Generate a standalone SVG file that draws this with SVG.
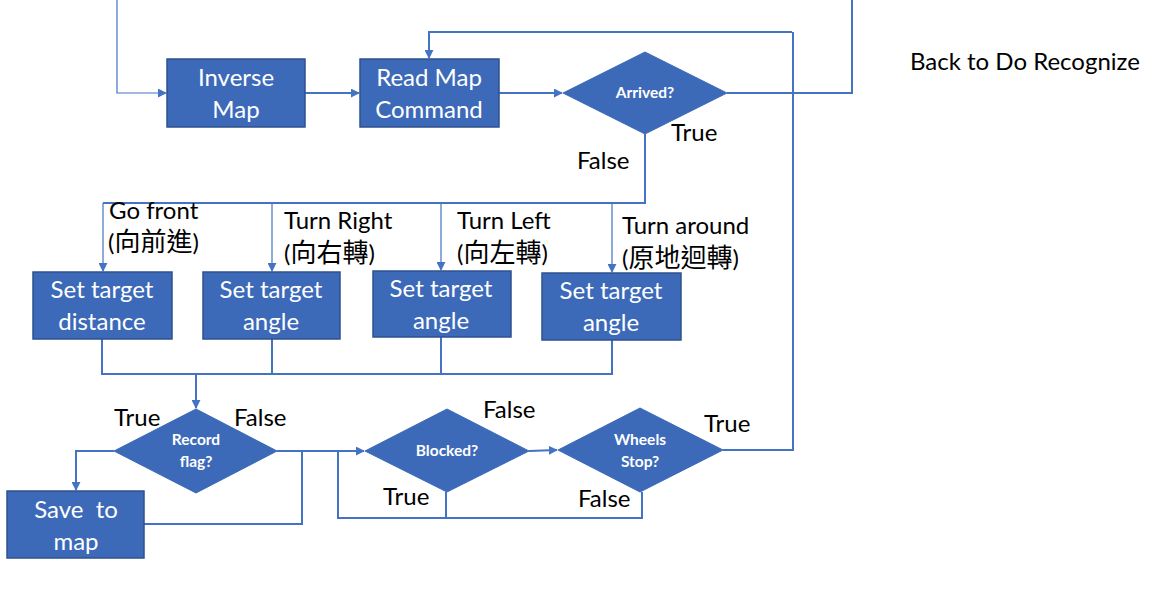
<svg xmlns="http://www.w3.org/2000/svg" width="1149" height="600" viewBox="0 0 1149 600">
<style>
.box{fill:#3C6AB9;stroke:#2F528F;stroke-width:1.5}
.dia{fill:#3C6AB9;stroke:#3C6AB9;stroke-width:1}
.bt{font-family:Lato,"Open Sans",sans-serif;font-size:24px;fill:#fff;text-anchor:middle}
.dt{font-family:Lato,"Open Sans",sans-serif;font-size:15.5px;font-weight:bold;fill:#fff;text-anchor:middle}
.lb{font-family:Lato,"Noto Sans CJK TC",sans-serif;font-size:24px;fill:#000}
.cjk{font-family:"Noto Sans CJK TC",sans-serif;font-size:26px}
.ln{fill:none;stroke:#4472C4;stroke-width:2}
.thin{fill:none;stroke:#4472C4;stroke-width:1.2}
</style>
<defs>
<marker id="ah2" viewBox="0 0 10 10" refX="9" refY="5" markerWidth="9" markerHeight="9" orient="auto" markerUnits="userSpaceOnUse">
<path d="M0,0 L10,5 L0,10 z" fill="#4472C4"/>
</marker>
</defs>
<rect width="1149" height="600" fill="#fff"/>
<g id="connectors">
<path class="thin" d="M117,0 V93 H166" marker-end="url(#ah2)"/>
<path class="ln" d="M305,93 H359" marker-end="url(#ah2)"/>
<path class="ln" d="M499,93 H562" marker-end="url(#ah2)"/>
<path class="ln" d="M727,93 H852 V0"/>
<path class="ln" d="M792,32 H429 V58" marker-end="url(#ah2)"/>
<path class="ln" d="M645,134 V203 H103"/>
<path class="thin" d="M103,203 V271" marker-end="url(#ah2)"/>
<path class="thin" d="M272,203 V271" marker-end="url(#ah2)"/>
<path class="thin" d="M441,203 V270" marker-end="url(#ah2)"/>
<path class="thin" d="M612,203 V272" marker-end="url(#ah2)"/>
<path class="ln" d="M102,339 V374 H612 V340"/>
<path class="ln" d="M272,339 V374"/>
<path class="ln" d="M441,337 V374"/>
<path class="ln" d="M196,374 V408" marker-end="url(#ah2)"/>
<path class="ln" d="M114,451 H76 V490" marker-end="url(#ah2)"/>
<path class="ln" d="M144,524 H302 V451"/>
<path class="ln" d="M277,451 H364" marker-end="url(#ah2)"/>
<path class="ln" d="M338,451 V518 H642 V492"/>
<path class="ln" d="M446,492 V518"/>
<path class="ln" d="M529,451 L557,450" marker-end="url(#ah2)"/>
<path class="ln" d="M723,450 H793 V32"/>
</g>
<g id="inverse-map">
<rect class="box" x="167" y="59" width="138" height="68"/>
<text class="bt" x="236" y="86">Inverse</text>
<text class="bt" x="236" y="118">Map</text>
</g>
<g id="read-map">
<rect class="box" x="360" y="59" width="139" height="68"/>
<text class="bt" x="429" y="86">Read Map</text>
<text class="bt" x="429" y="118">Command</text>
</g>
<g id="arrived">
<polygon class="dia" points="563,93 645,52 727,93 645,134"/>
<text class="dt" x="645" y="98">Arrived?</text>
</g>
<g id="set-distance">
<rect class="box" x="33" y="272" width="139" height="67"/>
<text class="bt" x="102" y="298">Set target</text>
<text class="bt" x="102" y="330">distance</text>
</g>
<g id="set-angle-right">
<rect class="box" x="203" y="272" width="137" height="67"/>
<text class="bt" x="271" y="298">Set target</text>
<text class="bt" x="271" y="330">angle</text>
</g>
<g id="set-angle-left">
<rect class="box" x="373" y="271" width="138" height="66"/>
<text class="bt" x="441" y="297">Set target</text>
<text class="bt" x="441" y="329">angle</text>
</g>
<g id="set-angle-around">
<rect class="box" x="542" y="273" width="139" height="67"/>
<text class="bt" x="611" y="299">Set target</text>
<text class="bt" x="611" y="331">angle</text>
</g>
<g id="record-flag">
<polygon class="dia" points="114,451 196,409 277,451 196,493"/>
<text class="dt" x="196" y="445">Record</text>
<text class="dt" x="196" y="467">flag?</text>
</g>
<g id="save-map">
<rect class="box" x="7" y="491" width="137" height="67"/>
<text class="bt" x="76" y="518" xml:space="preserve">Save  to</text>
<text class="bt" x="76" y="550">map</text>
</g>
<g id="blocked">
<polygon class="dia" points="365,451 447,409 529,451 447,492"/>
<text class="dt" x="447" y="456">Blocked?</text>
</g>
<g id="wheels-stop">
<polygon class="dia" points="558,450 640,408 723,450 640,492"/>
<text class="dt" x="640" y="445">Wheels</text>
<text class="dt" x="640" y="467">Stop?</text>
</g>
<g id="labels">
<text class="lb" x="910" y="70">Back to Do Recognize</text>
<text class="lb" x="671" y="141">True</text>
<text class="lb" x="577" y="169">False</text>
<text class="lb" x="109" y="219">Go front</text>
<text class="lb" x="108" y="251">(<tspan class="cjk">向前進</tspan>)</text>
<text class="lb" x="284" y="229">Turn Right</text>
<text class="lb" x="284" y="262">(<tspan class="cjk">向右轉</tspan>)</text>
<text class="lb" x="457" y="229">Turn Left</text>
<text class="lb" x="457" y="262">(<tspan class="cjk">向左轉</tspan>)</text>
<text class="lb" x="622" y="234">Turn around</text>
<text class="lb" x="622" y="267">(<tspan class="cjk">原地迴轉</tspan>)</text>
<text class="lb" x="114" y="426">True</text>
<text class="lb" x="234" y="426">False</text>
<text class="lb" x="483" y="418">False</text>
<text class="lb" x="704" y="432">True</text>
<text class="lb" x="383" y="505">True</text>
<text class="lb" x="578" y="507">False</text>
</g>
</svg>
